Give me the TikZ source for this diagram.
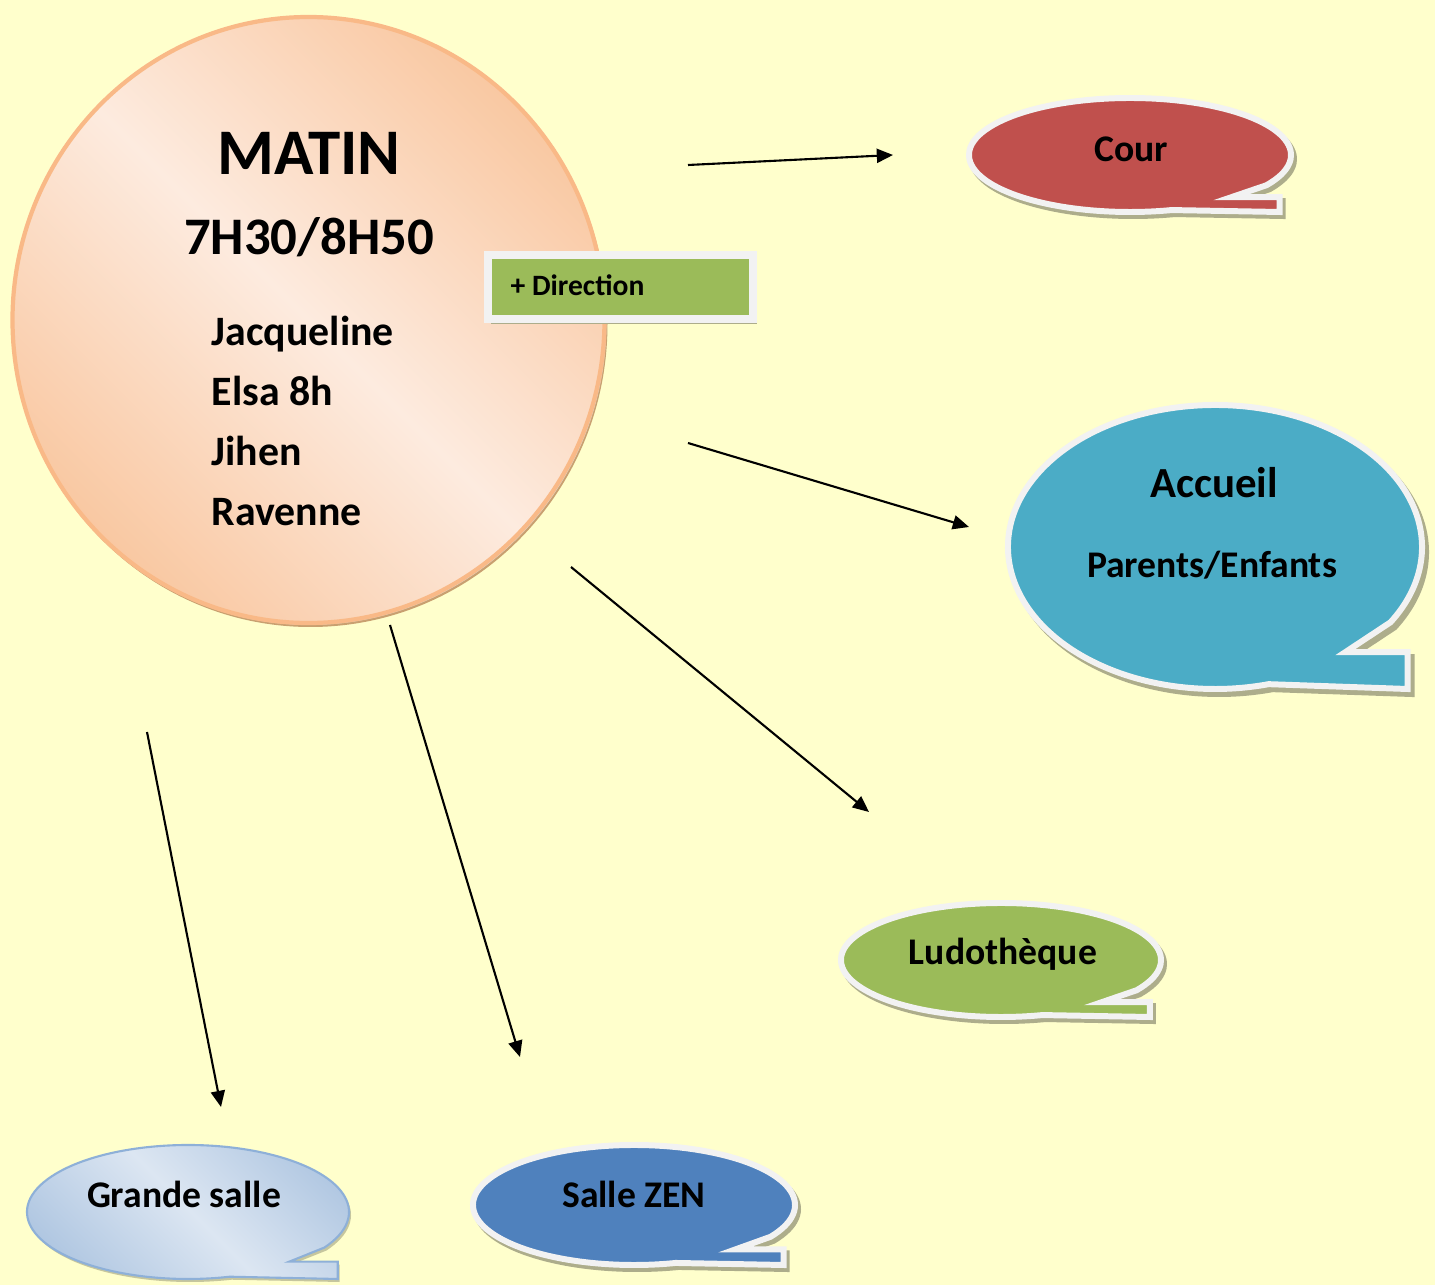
\documentclass[tikz,border=0pt]{standalone}
\usepackage{fontspec}
\setmainfont{Carlito}
\usetikzlibrary{arrows.meta}
\definecolor{bg}{HTML}{FFFFCC}
\definecolor{plight}{HTML}{FDEBDF}
\definecolor{pdark}{HTML}{F9C8A2}
\definecolor{pborder}{HTML}{F9B987}
\definecolor{pshadow}{HTML}{C9A070}
\definecolor{outl}{HTML}{F2F2F2}
\definecolor{cred}{HTML}{C0504D}
\definecolor{cteal}{HTML}{4BACC6}
\definecolor{cgreen}{HTML}{9BBB59}
\definecolor{cblue}{HTML}{4F81BD}
\definecolor{blight}{HTML}{DCE6F2}
\definecolor{bdark}{HTML}{AFC6E1}
\definecolor{bborder}{HTML}{8EB0D8}
\colorlet{shad}{black!32!bg}
% bubble outline: centre x, centre y, x radius, y radius
\newcommand\bubblepath[4]{(#1,#2) ++(32:#3 and #4)
  arc[start angle=32, end angle=-285, x radius=#3, y radius=#4]
  -- ({#1+0.93*#3},{#2+#4}) -- ({#1+0.93*#3},{#2+0.74*#4})
  -- ({#1+0.63*#3},{#2+0.74*#4}) -- cycle}
\tikzset{
  bubble/.style={draw=outl, line width=1.7pt, line join=miter},
  bshadow/.style={fill=shad, draw=shad, line width=1.7pt},
  lbl/.style={inner sep=0pt, anchor=base, font=\bfseries},
  btxt/.style={lbl, font=\bfseries\fontsize{10.7pt}{13pt}\selectfont},
  conn/.style={line width=0.6pt, -{Triangle[length=4.6pt,width=4pt]}},
}
\begin{document}
\begin{tikzpicture}[x=0.01cm, y=-0.01cm]
\fill[bg] (0,0) rectangle (1435,1285);
\useasboundingbox (0,0) rectangle (1435,1285);

% central disc
\fill[pshadow] (310.5,324) ellipse [x radius=297, y radius=303];
\fill[outl!60!pshadow] (309.5,322) ellipse [x radius=297, y radius=303];
\shade[top color=pdark, bottom color=pdark, middle color=plight, shading angle=-45]
  (308.5,320) ellipse [x radius=296, y radius=303];
\draw[pborder, line width=1.2pt] (308.5,320) ellipse [x radius=296, y radius=303];

% + Direction box
\fill[shad] (491,259) rectangle (757,324);
\draw[draw=outl, fill=cgreen, line width=2.3pt] (488,255) rectangle (753,319);

% Cour
\begin{scope}[shift={(3,4)}]\draw[bshadow] \bubblepath{1130}{155}{161}{57};\end{scope}
\draw[bubble, fill=cred] \bubblepath{1130}{155}{161}{57};
% Accueil
\begin{scope}[shift={(4,5)}]\draw[bshadow] \bubblepath{1215}{547}{207}{142};\end{scope}
\draw[bubble, fill=cteal] \bubblepath{1215}{547}{207}{142};
% Ludotheque
\begin{scope}[shift={(3,4)}]\draw[bshadow] \bubblepath{1001}{960}{160}{57};\end{scope}
\draw[bubble, fill=cgreen] \bubblepath{1001}{960}{160}{57};
% Salle ZEN
\begin{scope}[shift={(3,4)}]\draw[bshadow] \bubblepath{634}{1205}{161}{60};\end{scope}
\draw[bubble, fill=cblue] \bubblepath{634}{1205}{161}{60};
% Grande salle
\begin{scope}[shift={(2,3)}]\fill[shad!70!bg] \bubblepath{188}{1212}{161}{67};\end{scope}
\shade[top color=bdark, bottom color=bdark, middle color=blight, shading angle=-45]
  \bubblepath{188}{1212}{161}{67};
\draw[bborder, line width=0.6pt, line join=miter] \bubblepath{188}{1212}{161}{67};

% texts
\node[lbl, font=\bfseries\fontsize{18.5pt}{21pt}\selectfont] (matin) at (309,175) {MATIN};
\node[lbl, font=\bfseries\fontsize{15pt}{18pt}\selectfont] (heure) at (309,255) {7H30/8H50};
\begin{scope}[every node/.style={lbl, anchor=base west, font=\bfseries\fontsize{11.9pt}{14pt}\selectfont}]
\node (n1) at (211,346) {Jacqueline};
\node (n2) at (211,406) {Elsa 8h};
\node (n3) at (211,466) {Jihen};
\node (n4) at (211,526) {Ravenne};
\end{scope}
\node[lbl, anchor=base west, font=\bfseries\fontsize{8.4pt}{10pt}\selectfont] (dir) at (510,296) {+ Direction};
\node[btxt] (cour) at (1131,162) {Cour};
\node[lbl, font=\bfseries\fontsize{12.2pt}{14pt}\selectfont] (accueil) at (1214,498) {Accueil};
\node[btxt] (parents) at (1212,578) {Parents/Enfants};
\node[btxt] (ludo) at (1003,965) {Ludothèque};
\node[btxt] (zen) at (634,1207) {Salle ZEN};
\node[btxt] (grande) at (184,1208) {Grande salle};

% connectors
\coordinate (s1) at (688,165);  \coordinate (e1) at (893,155);
\coordinate (s2) at (688,443);  \coordinate (e2) at (969,527);
\coordinate (s3) at (571,567);  \coordinate (e3) at (869,812);
\coordinate (s4) at (390,625);  \coordinate (e4) at (520,1057);
\coordinate (s5) at (147,732);  \coordinate (e5) at (221,1107);
\draw[conn] (s1) -- (e1);
\draw[conn] (s2) -- (e2);
\draw[conn] (s3) -- (e3);
\draw[conn] (s4) -- (e4);
\draw[conn] (s5) -- (e5);
\end{tikzpicture}
\end{document}
